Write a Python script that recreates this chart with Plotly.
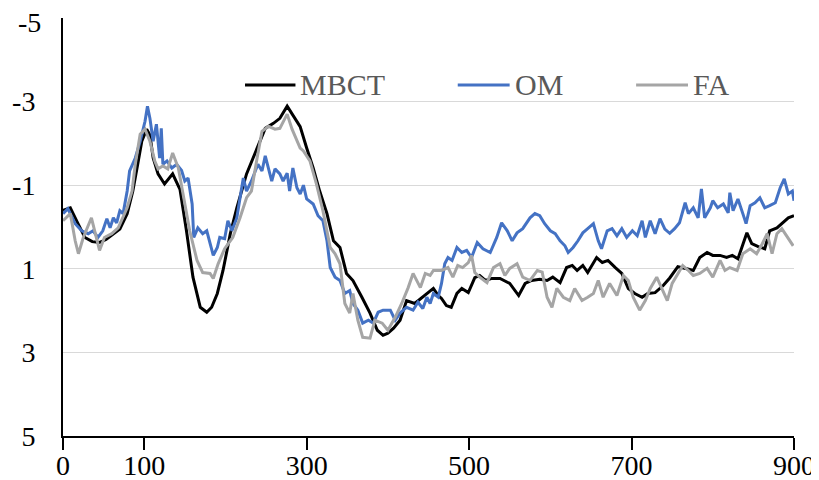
import plotly.graph_objects as go

# ---- data ----
mbct_x = [0, 9, 18, 27, 36, 45, 53, 62, 70, 79, 86, 92, 97, 103, 107, 111, 117, 125, 135, 144,
          152, 160, 169, 177, 183, 190, 197, 206, 214, 226, 239, 249, 259, 267, 276, 284, 292,
          300, 308, 316, 325, 333, 341, 349, 357, 368, 378, 387, 394, 400, 407, 415, 423, 433,
          443, 448, 456, 462, 466, 472, 478, 485, 491, 499, 507, 513, 520, 528, 538, 550, 561,
          569, 577, 587, 596, 603, 612, 620, 627, 633, 640, 646, 657, 664, 671, 680, 688, 696,
          704, 713, 720, 729, 739, 747, 757, 768, 776, 784, 793, 800, 809, 817, 824, 831, 842,
          848, 856, 864, 870, 879, 885, 893, 900]
mbct_y = [-0.4, -0.46, -0.1, 0.25, 0.35, 0.37, 0.3, 0.16, 0.05, -0.32, -0.86, -1.5, -2.05, -2.34,
          -2.2, -1.65, -1.27, -1.03, -1.27, -0.9, 0.09, 1.2, 1.92, 2.04, 1.92, 1.59, 1.04, 0.16,
          -0.46, -1.27, -1.89, -2.36, -2.48, -2.6, -2.89, -2.65, -2.4, -1.89, -1.41, -0.86, -0.32,
          0.33, 0.49, 1.11, 1.28, 1.68, 2.06, 2.47, 2.59, 2.54, 2.42, 2.23, 1.76, 1.83, 1.68, 1.59,
          1.47, 1.64, 1.71, 1.88, 1.92, 1.59, 1.47, 1.57, 1.21, 1.16, 1.28, 1.23, 1.23, 1.35, 1.64,
          1.35, 1.28, 1.25, 1.28, 1.2, 1.33, 0.97, 0.92, 1.04, 0.92, 1.09, 0.73, 0.85, 0.8, 0.97,
          1.11, 1.47, 1.59, 1.68, 1.59, 1.57, 1.4, 1.22, 0.95, 1.0, 1.04, 0.73, 0.61, 0.68, 0.68,
          0.73, 0.68, 0.76, 0.14, 0.4, 0.47, 0.52, 0.09, 0.02, -0.08, -0.22, -0.27]

om_x = [0, 6, 15, 23, 31, 37, 43, 49, 54, 58, 62, 66, 70, 74, 79, 82, 89, 95, 101, 104, 107, 111,
        115, 119, 121, 123, 128, 134, 140, 146, 150, 154, 159, 161, 166, 172, 177, 181, 185, 190,
        193, 199, 203, 208, 214, 218, 222, 226, 232, 240, 245, 249, 253, 257, 261, 267, 271, 276,
        279, 283, 288, 292, 296, 300, 308, 314, 320, 325, 329, 335, 341, 347, 353, 357, 363, 369,
        376, 382, 388, 394, 403, 409, 415, 423, 431, 437, 443, 448, 452, 456, 462, 466, 470, 474,
        479, 485, 491, 497, 503, 510, 517, 526, 534, 540, 547, 553, 559, 566, 575, 581, 587, 593,
        600, 606, 612, 618, 622, 628, 634, 640, 646, 653, 659, 663, 670, 676, 682, 688, 694, 701,
        707, 713, 717, 723, 729, 735, 741, 747, 753, 759, 766, 770, 776, 782, 786, 790, 797, 800,
        806, 813, 819, 821, 825, 831, 837, 841, 846, 852, 858, 864, 870, 877, 883, 888, 893, 898,
        900]
om_y = [-0.32, -0.44, -0.08, 0.09, 0.16, 0.09, 0.25, 0.09, -0.2, 0.02, -0.22, -0.1, -0.39, -0.32,
        -0.86, -1.34, -1.65, -2.05, -2.53, -2.89, -2.6, -2.05, -2.46, -1.65, -2.36, -1.5, -1.58,
        -1.41, -1.5, -1.35, -1.1, -1.17, -0.55, 0.25, 0.02, 0.16, 0.09, 0.4, 0.68, 0.49, 0.25,
        0.28, -0.15, 0.09, -0.22, -0.7, -1.17, -0.86, -1.1, -1.5, -1.34, -1.7, -1.39, -1.1, -1.39,
        -1.27, -1.1, -1.29, -0.86, -1.41, -0.94, -0.79, -1.0, -0.67, -0.55, -0.27, -0.15, 0.33,
        0.97, 1.2, 1.28, 1.59, 1.52, 1.83, 1.99, 2.3, 2.23, 2.3, 2.04, 1.99, 1.99, 2.23, 2.06,
        1.92, 1.99, 1.8, 1.95, 1.68, 1.83, 1.59, 1.68, 1.35, 0.88, 0.73, 0.8, 0.49, 0.61, 0.56,
        0.73, 0.37, 0.52, 0.61, 0.25, -0.1, 0.09, 0.33, 0.14, 0.04, -0.22, -0.32, -0.27, -0.08,
        0.09, 0.16, 0.33, 0.45, 0.61, 0.49, 0.33, 0.14, 0.04, -0.08, 0.33, 0.52, 0.09, 0.04, 0.21,
        0.04, 0.25, 0.09, 0.21, -0.15, 0.25, -0.15, 0.16, -0.2, 0.05, 0.15, 0.04, -0.1, -0.58,
        -0.32, -0.46, -0.22, -0.91, -0.22, -0.46, -0.63, -0.46, -0.55, -0.34, -0.82, -0.39, -0.67,
        -0.32, -0.08, -0.51, -0.58, -0.7, -0.46, -0.51, -0.58, -0.94, -1.15, -0.79, -0.86, -0.63]

fa_x = [0, 9, 15, 19, 25, 35, 41, 45, 51, 60, 68, 79, 85, 89, 95, 101, 107, 113, 117, 123, 129,
        135, 142, 148, 156, 165, 172, 181, 185, 191, 199, 209, 218, 226, 232, 239, 245, 253, 261,
        267, 276, 282, 292, 296, 304, 312, 320, 329, 335, 341, 347, 353, 357, 363, 369, 378, 384,
        393, 400, 409, 417, 425, 431, 440, 446, 452, 456, 466, 474, 480, 486, 492, 499, 503, 507,
        513, 522, 530, 538, 544, 550, 559, 566, 575, 584, 590, 596, 602, 608, 616, 624, 630, 639,
        646, 653, 659, 665, 673, 682, 690, 696, 702, 710, 717, 723, 731, 738, 744, 750, 757, 763,
        770, 776, 784, 793, 800, 809, 815, 821, 830, 837, 846, 854, 861, 867, 873, 879, 885, 891,
        899]
fa_y = [-0.15, -0.32, 0.33, 0.64, 0.25, -0.22, 0.25, 0.56, 0.25, 0.16, 0.02, -0.46, -0.86, -1.5,
        -2.22, -2.34, -2.05, -1.58, -1.39, -1.46, -1.39, -1.77, -1.41, -0.75, 0.09, 0.8, 1.09,
        1.11, 1.23, 0.88, 0.52, 0.25, -0.22, -0.7, -0.86, -1.65, -2.29, -2.41, -2.34, -2.36, -2.7,
        -2.34, -1.89, -1.82, -1.58, -1.03, -0.39, 0.49, 0.64, 0.88, 1.83, 2.06, 1.59, 2.23, 2.64,
        2.66, 2.23, 2.3, 2.47, 2.16, 1.83, 1.45, 1.11, 1.45, 1.11, 1.16, 1.04, 1.04, 0.97, 1.2,
        0.92, 0.97, 0.85, 0.68, 1.09, 1.2, 1.33, 0.97, 0.88, 1.16, 0.99, 0.88, 1.2, 1.28, 1.04,
        1.08, 1.68, 1.92, 1.47, 1.68, 1.76, 1.47, 1.76, 1.68, 1.59, 1.28, 1.68, 1.35, 1.64, 1.16,
        1.28, 1.68, 1.99, 1.76, 1.47, 1.2, 1.52, 1.76, 1.35, 1.11, 0.92, 1.04, 1.16, 1.11, 0.99,
        1.2, 0.8, 1.04, 0.97, 1.04, 0.64, 0.52, 0.64, 0.4, 0.16, 0.64, 0.16, 0.04, 0.21, 0.45]

series_names = ["MBCT", "OM", "FA"]
series_colors = ["#000000", "#4472C4", "#A5A5A5"]
x_ticks = [0, 100, 300, 500, 700, 900]
y_ticks = [-5, -3, -1, 1, 3, 5]

FONT = "Liberation Serif, Times New Roman, serif"

fig = go.Figure()
for name, xs, ys, col in zip(series_names, [mbct_x, om_x, fa_x], [mbct_y, om_y, fa_y], series_colors):
    fig.add_trace(go.Scatter(x=xs, y=ys, mode="lines", name=name,
                             line=dict(color=col, width=3), showlegend=False))

# manual legend (line samples + labels) in paper coordinates
leg_y = 0.84
leg_items = [(0.249, 0.318), (0.540, 0.611), (0.784, 0.855)]
for (x0, x1), name, col in zip(leg_items, series_names, series_colors):
    fig.add_shape(type="line", xref="paper", yref="paper", x0=x0, x1=x1, y0=leg_y, y1=leg_y,
                  line=dict(color=col, width=3))
    fig.add_annotation(xref="paper", yref="paper", x=x1 + 0.004, y=leg_y, text=name,
                       showarrow=False, xanchor="left", yanchor="middle",
                       font=dict(family=FONT, size=30, color="#595959"))

# top y label drawn as an annotation, nudged down so it stays inside the page
y_text = [str(v) for v in y_ticks]
top_label = y_text[0]
y_text[0] = ""
fig.add_annotation(xref="paper", yref="y", x=0, y=y_ticks[0], text=top_label,
                   showarrow=False, xanchor="right", yanchor="middle", xshift=-20, yshift=-4,
                   font=dict(family=FONT, size=28, color="#000000"))

# page body adds an 8px offset, so the figure is 811x472
fig.update_layout(
    width=811, height=472,
    margin=dict(l=55, r=25, t=10, b=44),
    paper_bgcolor="white", plot_bgcolor="white",
    font=dict(family=FONT, size=28, color="#000000"),
)
fig.update_xaxes(range=[0, 900], tickvals=x_ticks, ticktext=[str(v) for v in x_ticks],
                 showgrid=False, zeroline=False, showline=True, linecolor="#000000", linewidth=2,
                 ticks="outside", ticklen=12, tickwidth=2, tickcolor="#000000", automargin=False,
                 ticklabelstandoff=-9, ticklabeloverflow="allow",
                 tickfont=dict(family=FONT, size=28, color="#000000"))
fig.update_yaxes(range=[5, -5], tickvals=y_ticks, ticktext=y_text,
                 showgrid=True, gridcolor="#D9D9D9", gridwidth=1, zeroline=False,
                 showline=True, linecolor="#000000", linewidth=2, ticks="", automargin=False,
                 ticklabelstandoff=20, ticklabeloverflow="allow",
                 tickfont=dict(family=FONT, size=28, color="#000000"))

fig.write_html("out.html")
